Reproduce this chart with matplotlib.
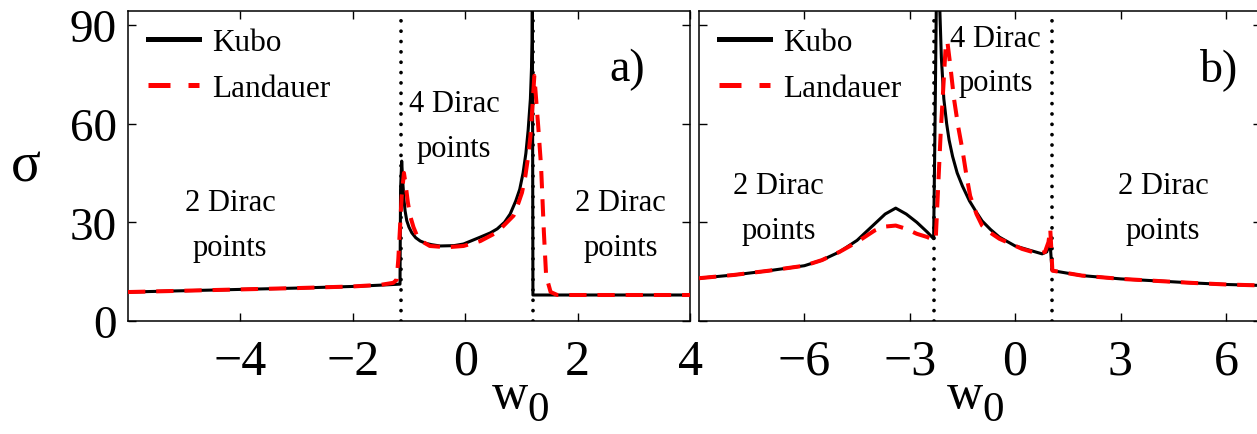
import matplotlib

matplotlib.use("Agg")
import matplotlib.pyplot as plt

plt.rcParams["font.family"] = ["Liberation Serif", "DejaVu Serif"]

# ── panel a) : w0 in [-6, 4] ─────────────────────────────────────────────
A_KUBO_X = [-6.0, -5.0, -4.0, -3.0, -2.0, -1.5, -1.16, -1.15, -1.13, -1.11,
            -1.09, -1.07, -1.04, -1.0, -0.95, -0.88, -0.8, -0.7, -0.6, -0.45,
            -0.2, -0.03, 0.27, 0.45, 0.57, 0.7, 0.8, 0.9, 0.97, 1.03, 1.08,
            1.12, 1.16, 1.18, 1.19, 1.195, 1.205, 2.0, 3.0, 4.0]
A_KUBO_Y = [8.8, 9.2, 9.6, 10.0, 10.5, 10.9, 11.2, 40.0, 48.6, 42.0,
            37.0, 33.5, 30.5, 28.5, 26.8, 25.3, 24.3, 23.6, 23.2, 22.8,
            22.9, 23.4, 25.5, 26.8, 28.0, 30.0, 32.5, 36.5, 40.0, 45.0, 51.0,
            58.0, 67.5, 77.0, 85.0, 100.0, 7.9, 7.9, 7.9, 7.9]

A_LAND_X = [-6.0, -5.0, -4.0, -3.0, -2.0, -1.5, -1.28, -1.22, -1.19, -1.13,
            -1.09, -1.06, -1.02, -0.98, -0.92, -0.86, -0.75, -0.63, -0.33,
            -0.03, 0.27, 0.57, 0.86, 0.95, 1.01, 1.07, 1.12, 1.16, 1.2, 1.23,
            1.3, 1.35, 1.4, 1.44, 1.52, 1.64, 2.0, 3.0, 4.0]
A_LAND_Y = [8.8, 9.2, 9.6, 10.0, 10.5, 11.0, 11.6, 12.5, 18.8, 38.0,
            45.0, 41.5, 36.0, 32.0, 28.5, 26.0, 24.0, 22.8, 22.4,
            22.8, 24.3, 27.0, 32.0, 36.0, 39.0, 44.0, 50.0, 56.0, 66.0, 74.5,
            59.0, 47.0, 27.0, 13.7, 8.8, 7.9, 7.9, 7.9, 7.9]

A_BOUNDS = [-1.15, 1.2]
A_XTICKS = [-4, -2, 0, 2, 4]

# ── panel b) : w0 in [-9, 7] ─────────────────────────────────────────────
B_KUBO_X = [-9.0, -8.0, -7.0, -6.0, -5.5, -5.0, -4.5, -4.0, -3.7, -3.4,
            -3.1, -2.8, -2.5, -2.32, -2.28, -2.24, -2.16, -2.1, -2.03, -1.95,
            -1.88, -1.78, -1.65, -1.5, -1.3, -1.1, -0.94, -0.7, -0.45, -0.2,
            0.0, 0.48, 0.77, 0.9, 0.97, 1.01, 1.04, 1.06, 1.9, 3.0, 4.0, 5.0,
            6.0, 7.0]
B_KUBO_Y = [13.0, 14.0, 15.3, 16.8, 18.5, 21.0, 24.5, 29.5, 32.5, 34.3,
            32.5, 30.0, 27.0, 25.0, 60.0, 100.0, 100.0, 80.0, 67.5, 60.0,
            55.0, 50.0, 45.0, 41.0, 36.5, 33.0, 30.4, 27.8, 25.5, 24.0,
            22.8, 21.3, 20.4, 21.0, 23.0, 21.5, 17.0, 15.3, 13.8, 12.8, 12.2,
            11.6, 11.1, 10.8]

B_LAND_X = [-9.0, -8.0, -7.0, -6.0, -5.5, -5.0, -4.5, -4.0, -3.7, -3.4,
            -3.1, -2.8, -2.5, -2.3, -2.26, -2.12, -1.98, -1.93, -1.85, -1.74,
            -1.62, -1.5, -1.39, -1.28, -1.1, -0.94, -0.7, -0.45, 0.2, 0.68,
            0.85, 0.95, 1.0, 1.03, 1.06, 1.9, 3.0, 4.0, 5.0, 6.0, 7.0]
B_LAND_Y = [13.0, 14.0, 15.3, 16.8, 18.5, 21.0, 24.0, 27.5, 28.7, 29.0,
            28.0, 26.5, 25.5, 24.5, 25.0, 57.0, 83.0, 85.0, 78.0, 67.5,
            59.0, 52.0, 44.5, 38.0, 32.5, 29.0, 26.8, 25.0, 21.9, 20.4,
            21.0, 24.0, 28.0, 22.0, 15.3, 13.8, 12.8, 12.2, 11.6, 11.1, 10.8]

B_BOUNDS = [-2.3, 1.05]
B_XTICKS = [-6, -3, 0, 3, 6]

YTICKS = [0, 30, 60, 90]

W, H = 1257, 435


def px_axes(left, right, top, bottom):
    return [left / W, 1 - bottom / H, (right - left) / W, (bottom - top) / H]


def draw_panel(ax, kx, ky, lx, ly, bounds, xlim, xticks, tag, tag_x, notes,
               ylabels=True):
    ax.set_xlim(*xlim)
    ax.set_ylim(0, 94.2)
    for b in bounds:
        ax.axvline(b, color="black", lw=2.7, linestyle=(0, (0.01, 2.75)),
                   dash_capstyle="round", zorder=1)
    ax.plot(kx, ky, color="black", lw=2.2, label="Kubo", zorder=2)
    ax.plot(lx, ly, color="#ff0000", lw=2.9, linestyle=(0, (4.3, 2.7)),
            label="Landauer", zorder=3)

    ax.set_xticks(xticks)
    ax.set_yticks(YTICKS)
    ax.tick_params(direction="in", length=6, width=1.0, top=True, right=True)
    ax.tick_params(axis="x", labelsize=36, pad=12.5)
    ax.tick_params(axis="y", labelsize=34, pad=8)
    if not ylabels:
        ax.set_yticklabels([])
    for s in ax.spines.values():
        s.set_linewidth(1.1)

    leg = ax.legend(loc="upper left", bbox_to_anchor=(0.035, 0.945),
                    frameon=False, fontsize=22.5, handlelength=1.65,
                    handletextpad=0.4, labelspacing=0.55, borderpad=0,
                    borderaxespad=0)
    kubo_h, land_h = leg.get_lines()
    kubo_h.set_linewidth(3.6)
    land_h.set_linewidth(3.6)
    land_h.set_linestyle((0, (4.4, 3.6)))

    ax.text(tag_x, 0.813, tag, transform=ax.transAxes, fontsize=33,
            ha="center", va="center")
    for x, y, s in notes:
        ax.text(x, y, s, transform=ax.transAxes, fontsize=22, ha="center",
                va="center", linespacing=1.7)


fig = plt.figure(figsize=(W / 100, H / 100), dpi=100)
ax_a = fig.add_axes(px_axes(128, 690, 12, 322))
ax_b = fig.add_axes(px_axes(699, 1261, 12, 322))

draw_panel(ax_a, A_KUBO_X, A_KUBO_Y, A_LAND_X, A_LAND_Y, A_BOUNDS, (-6, 4),
           A_XTICKS, "a)", 0.888,
           [(0.1815, 0.31, "2 Dirac\npoints"),
            (0.58, 0.629, "4 Dirac\npoints"),
            (0.877, 0.31, "2 Dirac\npoints")])
draw_panel(ax_b, B_KUBO_X, B_KUBO_Y, B_LAND_X, B_LAND_Y, B_BOUNDS, (-9, 7),
           B_XTICKS, "b)", 0.925,
           [(0.142, 0.365, "2 Dirac\npoints"),
            (0.528, 0.84, "4 Dirac\npoints"),
            (0.826, 0.365, "2 Dirac\npoints")],
           ylabels=False)

# axis labels: sigma on the left, w with a large lowered 0 under each panel
fig.text(26 / W, 1 - 168 / H, "σ", fontsize=40, ha="center", va="center")
for wx in (510, 965):
    fig.text(wx / W, 1 - 396 / H, "w", fontsize=36, ha="center",
             va="center")
    fig.text((wx + 28) / W, 1 - 411 / H, "0", fontsize=31, ha="center",
             va="center")

fig.savefig("out.png", dpi=100)
